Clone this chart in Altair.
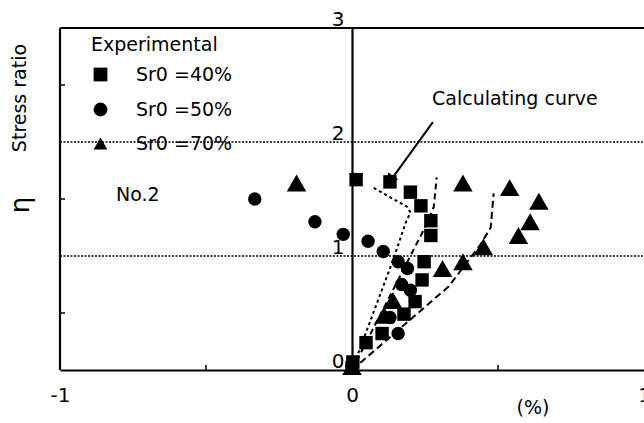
import altair as alt
import pandas as pd

FONT = "DejaVu Sans"

# ---- data ----
series_names = ["Sr0 =40%", "Sr0 =50%", "Sr0 =70%"]
shapes = ["square", "circle", "triangle-up"]

sq_x = [0.0, 0.003, 0.048, 0.103, 0.178, 0.216, 0.24, 0.247, 0.27, 0.27, 0.236, 0.20, 0.13, 0.014]
sq_y = [0.02, 0.07, 0.24, 0.32, 0.49, 0.60, 0.79, 0.95, 1.18, 1.31, 1.44, 1.56, 1.65, 1.67]

ci_x = [0.0, 0.158, 0.13, 0.17, 0.20, 0.19, 0.158, 0.107, 0.055, -0.03, -0.127, -0.333]
ci_y = [0.03, 0.32, 0.46, 0.75, 0.70, 0.89, 0.95, 1.04, 1.13, 1.19, 1.30, 1.50]

tr_x = [0.0, 0.11, 0.14, 0.31, 0.38, 0.45, 0.57, 0.61, 0.64, 0.54, 0.38, -0.19]
tr_y = [0.03, 0.48, 0.61, 0.89, 0.95, 1.08, 1.18, 1.30, 1.48, 1.60, 1.64, 1.64]

c1_x = [0.0, 0.14, 0.185, 0.20, 0.19, 0.072]
c1_y = [0.0, 0.96, 1.30, 1.38, 1.43, 1.60]
c2_x = [0.0, 0.21, 0.25, 0.28, 0.29]
c2_y = [0.0, 1.05, 1.25, 1.43, 1.69]
c3_x = [0.0, 0.33, 0.44, 0.475, 0.485]
c3_y = [0.0, 0.73, 1.10, 1.25, 1.55]

x_ticks = [-1, 0, 1]
y_ticks = [0, 1, 2, 3]
grid_y = [1, 2]
minor_x = [-0.5, 0.5]
minor_y = [0.5, 1.5, 2.5]

arrow_x = [0.277, 0.14]
arrow_y = [2.175, 1.69]
arrow_head = (0.13, 1.665)

# ---- tables ----
pts = pd.concat([
    pd.DataFrame({"x": sq_x, "y": sq_y, "series": series_names[0]}),
    pd.DataFrame({"x": ci_x, "y": ci_y, "series": series_names[1]}),
    pd.DataFrame({"x": tr_x, "y": tr_y, "series": series_names[2]}),
], ignore_index=True)

curves = pd.concat([
    pd.DataFrame({"x": c1_x, "y": c1_y, "curve": "c1", "i": range(len(c1_x))}),
    pd.DataFrame({"x": c2_x, "y": c2_y, "curve": "c2", "i": range(len(c2_x))}),
    pd.DataFrame({"x": c3_x, "y": c3_y, "curve": "c3", "i": range(len(c3_x))}),
], ignore_index=True)

W, H = 584, 342

xs = alt.Scale(domain=[-1, 1], nice=False, zero=False)
ys = alt.Scale(domain=[0, 3], nice=False, zero=False)

X_AX = alt.Axis(values=x_ticks, title=None, grid=False, ticks=False,
                domainColor="black", domainWidth=2.2, labelFont=FONT,
                labelFontSize=20, labelColor="black", labelPadding=15,
                labelFlush=False, labelExpr="'' + datum.value")
Y_AX = alt.Axis(values=y_ticks, title=None, grid=False, ticks=False, orient="left",
                offset=-292, domainColor="black", domainWidth=2.2, labelFont=FONT,
                labelFontSize=20, labelColor="black", labelPadding=8,
                labelBaseline="alphabetic", labelOffset=-3, labelFlush=False)

def X(field="x"):
    return alt.X(f"{field}:Q", scale=xs, axis=X_AX)

def Y(field="y"):
    return alt.Y(f"{field}:Q", scale=ys, axis=Y_AX)

grid = alt.Chart(pd.DataFrame({"y": grid_y})).mark_rule(
    color="black", strokeWidth=1.3, strokeDash=[2, 1.5]
).encode(y=Y(), x=alt.value(0), x2=alt.value(W))

top = alt.Chart(pd.DataFrame({"y": [3]})).mark_rule(color="black", strokeWidth=2.2).encode(
    y=Y(), x=alt.value(0), x2=alt.value(W))
left = alt.Chart(pd.DataFrame({"x": [-1]})).mark_rule(color="black", strokeWidth=2.2).encode(
    x=X(), y=alt.value(0), y2=alt.value(H))

mtx = alt.Chart(pd.DataFrame({"x": minor_x})).mark_rule(color="black", strokeWidth=1.5).encode(
    x=X(), y=alt.value(H), y2=alt.value(H - 5))
mty = alt.Chart(pd.DataFrame({"y": minor_y})).mark_rule(color="black", strokeWidth=1.5).encode(
    y=Y(), x=alt.value(0), x2=alt.value(5))

lines = alt.Chart(curves).mark_line(color="black", strokeWidth=2).encode(
    x=X(), y=Y(), order=alt.Order("i:Q"),
    detail="curve:N",
    strokeDash=alt.StrokeDash("curve:N", scale=alt.Scale(domain=["c1", "c2", "c3"],
                              range=[[3, 3], [6, 4], [7, 4]]), legend=None),
)

SHAPE_LEGEND = alt.Legend(title="Experimental", orient="none", legendX=31, legendY=8,
                          titleFont=FONT, titleFontSize=19, titleFontWeight="normal",
                          titleColor="black", labelFont=FONT, labelFontSize=19,
                          labelColor="black", symbolSize=190, symbolFillColor="black",
                          symbolStrokeColor="black", symbolOpacity=1, rowPadding=14,
                          titlePadding=10, labelOffset=26, padding=0)
SHAPE = alt.Shape("series:N", scale=alt.Scale(domain=series_names, range=shapes),
                  legend=SHAPE_LEGEND)

pts_a = pts[pts["series"] != series_names[2]]
pts_b = pts[pts["series"] == series_names[2]]

points_a = alt.Chart(pts_a).mark_point(filled=True, color="black", opacity=1, size=180).encode(
    x=X(), y=Y(), shape=SHAPE)
points_b = alt.Chart(pts_b).mark_point(filled=True, color="black", opacity=1, size=380).encode(
    x=X(), y=Y(), shape=SHAPE)

arrow = alt.Chart(pd.DataFrame({"x": arrow_x, "y": arrow_y})).mark_line(
    color="black", strokeWidth=2).encode(x=X(), y=Y())
head = alt.Chart(pd.DataFrame({"x": [arrow_head[0]], "y": [arrow_head[1]]})).mark_point(
    shape="triangle-up", filled=True, color="black", opacity=1, size=150, angle=216
).encode(x=X(), y=Y())

def label(t, x, y, size=19, angle=0, align="left", baseline="alphabetic"):
    return alt.Chart(pd.DataFrame({"t": [t]})).mark_text(
        font=FONT, fontSize=size, color="black", align=align, baseline=baseline, angle=angle
    ).encode(text="t:N", x=alt.value(x), y=alt.value(y))

texts = [
    label("Calculating curve", 372, 77),
    label("No.2", 56, 173),
    label("(%)", 473, 380, align="center", baseline="middle"),
    label("Stress ratio", -40, 70, angle=270, align="center", baseline="middle"),
    label("η", -39, 177, size=26, angle=270, align="center", baseline="middle"),
]

chart = alt.layer(grid, top, left, mtx, mty, lines, arrow, head, points_a, points_b, *texts).properties(
    width=W, height=H,
    autosize=alt.AutoSizeParams(type="none"),
    padding={"left": 60, "top": 28, "right": 0, "bottom": 53},
).configure_view(stroke=None).configure(background="white")

chart.save("out.html", embed_options={"renderer": "svg", "actions": False})
